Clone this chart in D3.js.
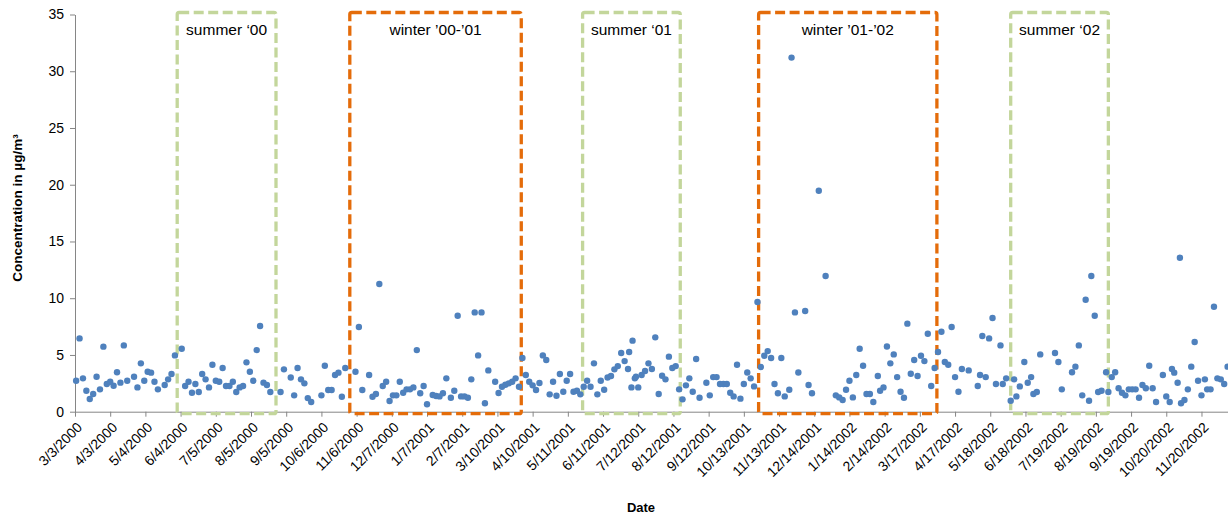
<!DOCTYPE html>
<html>
<head>
<meta charset="utf-8">
<script src="https://cdn.jsdelivr.net/npm/d3@7"></script>
<style>
  body { margin: 0; background: #fff; }
  text { font-family: "Liberation Sans", Arial, sans-serif; fill: #000; }
</style>
</head>
<body>
<div id="chart"></div>
<script>
// sample dates (m/d/yyyy) and measured concentration in µg/m³
const sampleDates = [
  "3/4/2000","3/7/2000","3/10/2000","3/13/2000","3/16/2000","3/19/2000","3/22/2000","3/25/2000","3/28/2000","3/31/2000",
  "4/3/2000","4/6/2000","4/9/2000","4/12/2000","4/15/2000","4/18/2000","4/24/2000","4/27/2000","4/30/2000","5/3/2000",
  "5/6/2000","5/9/2000","5/12/2000","5/15/2000","5/21/2000","5/24/2000","5/27/2000","5/30/2000","6/5/2000","6/8/2000",
  "6/11/2000","6/14/2000","6/17/2000","6/20/2000","6/23/2000","6/26/2000","6/29/2000","7/2/2000","7/5/2000","7/8/2000",
  "7/11/2000","7/14/2000","7/17/2000","7/20/2000","7/23/2000","7/26/2000","7/29/2000","8/1/2000","8/4/2000","8/7/2000",
  "8/10/2000","8/13/2000","8/16/2000","8/19/2000","8/22/2000","8/31/2000","9/3/2000","9/9/2000","9/12/2000","9/15/2000",
  "9/18/2000","9/21/2000","9/24/2000","9/27/2000","10/6/2000","10/9/2000","10/12/2000","10/15/2000","10/18/2000","10/21/2000",
  "10/24/2000","10/27/2000","11/5/2000","11/8/2000","11/11/2000","11/17/2000","11/20/2000","11/23/2000","11/26/2000","11/29/2000",
  "12/2/2000","12/5/2000","12/8/2000","12/11/2000","12/14/2000","12/17/2000","12/20/2000","12/23/2000","12/26/2000","12/29/2000",
  "1/1/2001","1/4/2001","1/7/2001","1/12/2001","1/15/2001","1/18/2001","1/21/2001","1/24/2001","1/28/2001","1/31/2001",
  "2/3/2001","2/6/2001","2/9/2001","2/12/2001","2/15/2001","2/18/2001","2/21/2001","2/24/2001","2/27/2001","3/2/2001",
  "3/8/2001","3/11/2001","3/14/2001","3/17/2001","3/20/2001","3/23/2001","3/26/2001","3/29/2001","4/1/2001","4/4/2001",
  "4/7/2001","4/10/2001","4/13/2001","4/16/2001","4/19/2001","4/22/2001","4/25/2001","4/28/2001","5/1/2001","5/4/2001",
  "5/7/2001","5/10/2001","5/13/2001","5/16/2001","5/19/2001","5/22/2001","5/25/2001","5/28/2001","5/31/2001","6/3/2001",
  "6/6/2001","6/9/2001","6/12/2001","6/15/2001","6/18/2001","6/21/2001","6/24/2001","6/27/2001","6/30/2001","7/3/2001",
  "7/4/2001","7/6/2001","7/7/2001","7/9/2001","7/10/2001","7/12/2001","7/15/2001","7/18/2001","7/21/2001","7/24/2001",
  "7/27/2001","7/30/2001","8/2/2001","8/5/2001","8/8/2001","8/11/2001","8/14/2001","8/17/2001","8/20/2001","8/23/2001",
  "8/26/2001","8/29/2001","9/1/2001","9/4/2001","9/10/2001","9/13/2001","9/16/2001","9/19/2001","9/22/2001","9/25/2001",
  "9/28/2001","10/1/2001","10/4/2001","10/7/2001","10/10/2001","10/13/2001","10/16/2001","10/19/2001","10/22/2001","10/25/2001",
  "10/28/2001","10/31/2001","11/3/2001","11/6/2001","11/9/2001","11/12/2001","11/15/2001","11/18/2001","11/22/2001","11/24/2001",
  "11/27/2001","11/30/2001","12/6/2001","12/9/2001","12/12/2001","12/18/2001","12/24/2001","1/2/2002","1/5/2002","1/8/2002",
  "1/11/2002","1/14/2002","1/17/2002","1/20/2002","1/23/2002","1/26/2002","1/29/2002","2/1/2002","2/4/2002","2/8/2002",
  "2/10/2002","2/13/2002","2/16/2002","2/19/2002","2/22/2002","2/25/2002","2/28/2002","3/3/2002","3/6/2002","3/9/2002",
  "3/12/2002","3/15/2002","3/18/2002","3/21/2002","3/24/2002","3/27/2002","3/30/2002","4/2/2002","4/5/2002","4/8/2002",
  "4/11/2002","4/14/2002","4/17/2002","4/20/2002","4/23/2002","4/29/2002","5/7/2002","5/9/2002","5/11/2002","5/14/2002",
  "5/17/2002","5/20/2002","5/23/2002","5/27/2002","5/29/2002","6/1/2002","6/5/2002","6/8/2002","6/10/2002","6/13/2002",
  "6/17/2002","6/20/2002","6/23/2002","6/25/2002","6/28/2002","7/1/2002","7/14/2002","7/17/2002","7/20/2002","7/29/2002",
  "8/1/2002","8/4/2002","8/7/2002","8/10/2002","8/13/2002","8/15/2002","8/18/2002","8/21/2002","8/24/2002","8/28/2002",
  "8/30/2002","9/2/2002","9/5/2002","9/8/2002","9/11/2002","9/14/2002","9/17/2002","9/20/2002","9/23/2002","9/26/2002",
  "9/29/2002","10/2/2002","10/5/2002","10/8/2002","10/11/2002","10/17/2002","10/20/2002","10/23/2002","10/25/2002","10/27/2002",
  "10/30/2002","11/1/2002","11/2/2002","11/5/2002","11/8/2002","11/11/2002","11/14/2002","11/17/2002","11/20/2002","11/23/2002",
  "11/25/2002","11/28/2002","12/1/2002","12/4/2002","12/7/2002","12/10/2002","12/13/2002"
];
const concentration = [
  2.73,6.46,2.94,1.85,1.12,1.56,3.08,1.97,5.73,2.44,
  2.64,2.29,3.47,2.56,5.84,2.73,3.08,2.14,4.26,2.73,
  3.52,3.44,2.64,1.97,2.35,2.85,3.32,4.96,5.55,2.26,
  2.64,1.67,2.44,1.73,3.32,2.85,2.14,4.14,2.73,2.64,
  3.85,2.26,2.26,2.64,1.73,2.14,2.26,4.35,3.52,2.73,
  5.43,7.55,2.56,2.35,1.73,1.73,3.73,3.02,1.44,3.85,
  2.85,2.5,1.2,0.85,1.44,4.05,1.91,1.91,3.23,3.44,
  1.32,3.85,3.52,7.46,1.91,3.23,1.32,1.56,11.25,2.26,
  2.64,0.94,1.44,1.44,2.64,1.67,1.97,1.97,2.14,5.43,
  1.62,2.26,0.65,1.47,1.38,1.35,1.62,2.94,1.23,1.85,
  8.46,1.35,1.35,1.23,2.85,8.75,4.96,8.75,0.74,3.64,
  2.64,1.65,2.2,2.38,2.5,2.64,2.94,2.2,4.73,3.23,
  2.64,2.32,1.91,2.53,4.96,4.55,1.53,2.64,1.41,3.32,
  1.76,2.73,3.32,1.76,1.85,1.53,2.2,2.73,2.2,4.26,
  1.53,2.73,1.94,3.02,3.14,3.73,4.02,5.17,4.46,3.76,
  5.26,2.14,6.26,2.94,3.08,2.14,3.23,3.58,4.26,3.76,
  6.55,1.56,3.17,2.85,4.85,3.85,4.02,1.97,1.09,2.32,
  2.94,1.76,4.64,1.23,2.55,1.44,3.05,3.05,2.44,2.44,
  2.44,1.67,1.35,4.14,1.15,2.44,3.46,2.94,2.23,9.67,
  3.94,4.93,5.34,4.73,2.44,1.62,4.73,1.35,1.94,31.2,
  8.75,3.46,8.87,2.35,1.62,19.47,11.96,1.44,1.26,1.03,
  1.94,2.73,1.26,3.23,5.55,4.05,1.56,1.56,0.85,3.14,
  1.85,2.14,5.75,4.26,5.05,3.05,1.76,1.23,7.76,3.35,
  4.55,3.14,4.93,4.46,6.87,2.26,3.85,5.26,7.05,4.38,
  4.14,7.46,3.05,1.76,3.76,3.64,2.26,3.23,6.67,3.05,
  6.46,8.25,2.44,5.84,2.44,2.94,0.97,2.85,1.35,2.23,
  4.38,2.55,3.05,1.56,1.73,5.05,5.17,4.38,1.97,3.47,
  3.97,5.84,1.44,9.87,0.97,11.96,8.46,1.73,1.85,3.47,
  1.73,3.05,3.47,2.06,1.67,1.44,1.97,1.97,1.97,1.23,
  2.35,2.06,4.05,2.06,0.85,3.23,1.35,0.85,3.76,3.44,
  2.55,13.57,0.74,1.03,1.97,3.97,6.14,2.73,1.44,2.85,
  1.97,1.97,9.25,2.94,2.85,2.44,3.97
];

// date axis labels, one every 31 days
const tickLabels = [
  "3/3/2000","4/3/2000","5/4/2000","6/4/2000","7/5/2000","8/5/2000","9/5/2000","10/6/2000",
  "11/6/2000","12/7/2000","1/7/2001","2/7/2001","3/10/2001","4/10/2001","5/11/2001","6/11/2001",
  "7/12/2001","8/12/2001","9/12/2001","10/13/2001","11/13/2001","12/14/2001","1/14/2002","2/14/2002",
  "3/17/2002","4/17/2002","5/18/2002","6/18/2002","7/19/2002","8/19/2002","9/19/2002","10/20/2002",
  "11/20/2002"
];
const yTicks = [0, 5, 10, 15, 20, 25, 30, 35];

// highlighted periods
const seasonNames = ["summer \u201800", "winter \u201900-\u201901", "summer \u201801", "winter \u201901-\u201902", "summer \u201802"];
const seasonStart = ["6/1/2000", "10/31/2000", "5/24/2001", "10/26/2001", "6/5/2002"];
const seasonEnd = ["8/27/2000", "3/31/2001", "8/18/2001", "4/1/2002", "8/30/2002"];
const seasonType = ["summer", "winter", "summer", "winter", "summer"];

const width = 1228, height = 514;
const parse = d3.utcParse("%m/%d/%Y");

const points = sampleDates.map((d, i) => ({ date: parse(d), value: concentration[i] }));
const tickDates = tickLabels.map(parse);

const x = d3.scaleUtc()
  .domain([parse("3/3/2000"), parse("12/16/2002")])
  .range([75, 1231]);
const y = d3.scaleLinear().domain([0, 35]).range([411.7, 14.5]);

const svg = d3.select("#chart").append("svg")
  .attr("width", width)
  .attr("height", height);

const axisColor = "#868686";

// y axis
const yAxis = svg.append("g")
  .attr("transform", "translate(75,0)")
  .call(d3.axisLeft(y).tickValues(yTicks).tickSize(5).tickSizeOuter(0).tickPadding(6));
yAxis.select(".domain").attr("stroke", axisColor);
yAxis.selectAll(".tick line").attr("stroke", axisColor);
yAxis.selectAll("text").style("font-size", "14px").attr("font-family", null);

// x axis
const xAxis = svg.append("g")
  .attr("transform", "translate(0," + y(0) + ")")
  .call(d3.axisBottom(x).tickValues(tickDates).tickFormat((d, i) => tickLabels[i])
    .tickSize(5).tickSizeOuter(0));
xAxis.select(".domain").attr("stroke", axisColor);
xAxis.selectAll(".tick line").attr("stroke", axisColor);
xAxis.selectAll("text")
  .style("font-size", "14px")
  .attr("font-family", null)
  .attr("text-anchor", "end")
  .attr("x", 0).attr("y", 0).attr("dy", "0.35em")
  .attr("transform", "translate(4,13) rotate(-45)");

// season boxes
const seasons = seasonNames.map((n, i) => ({
  name: n, start: parse(seasonStart[i]), end: parse(seasonEnd[i]), type: seasonType[i]
}));
const boxColor = { summer: "#c3d69b", winter: "#e46c0a" };

const box = svg.append("g").selectAll("g").data(seasons).join("g");
box.append("rect")
  .attr("x", d => x(d.start))
  .attr("y", y(35) - 2)
  .attr("width", d => x(d.end) - x(d.start))
  .attr("height", y(0) - y(35) + 4)
  .attr("rx", 2)
  .attr("fill", "none")
  .attr("stroke", d => boxColor[d.type])
  .attr("stroke-width", 3.3)
  .attr("stroke-dasharray", "10,4.5");
box.append("text")
  .attr("x", d => (x(d.start) + x(d.end)) / 2)
  .attr("y", y(35) + 20)
  .attr("text-anchor", "middle")
  .style("font-size", "15.5px")
  .text(d => d.name);

// measurements
svg.append("g").selectAll("circle").data(points).join("circle")
  .attr("cx", d => x(d.date))
  .attr("cy", d => y(d.value))
  .attr("r", 3.2)
  .attr("fill", "#4f81bd");

// axis titles
svg.append("text")
  .attr("transform", "translate(22,208) rotate(-90)")
  .attr("text-anchor", "middle")
  .style("font-size", "13.5px")
  .style("font-weight", "bold")
  .text("Concentration  in  \u00b5g/m\u00b3");

svg.append("text")
  .attr("x", 641)
  .attr("y", 512)
  .attr("text-anchor", "middle")
  .style("font-size", "13px")
  .style("font-weight", "bold")
  .text("Date");
</script>
</body>
</html>
